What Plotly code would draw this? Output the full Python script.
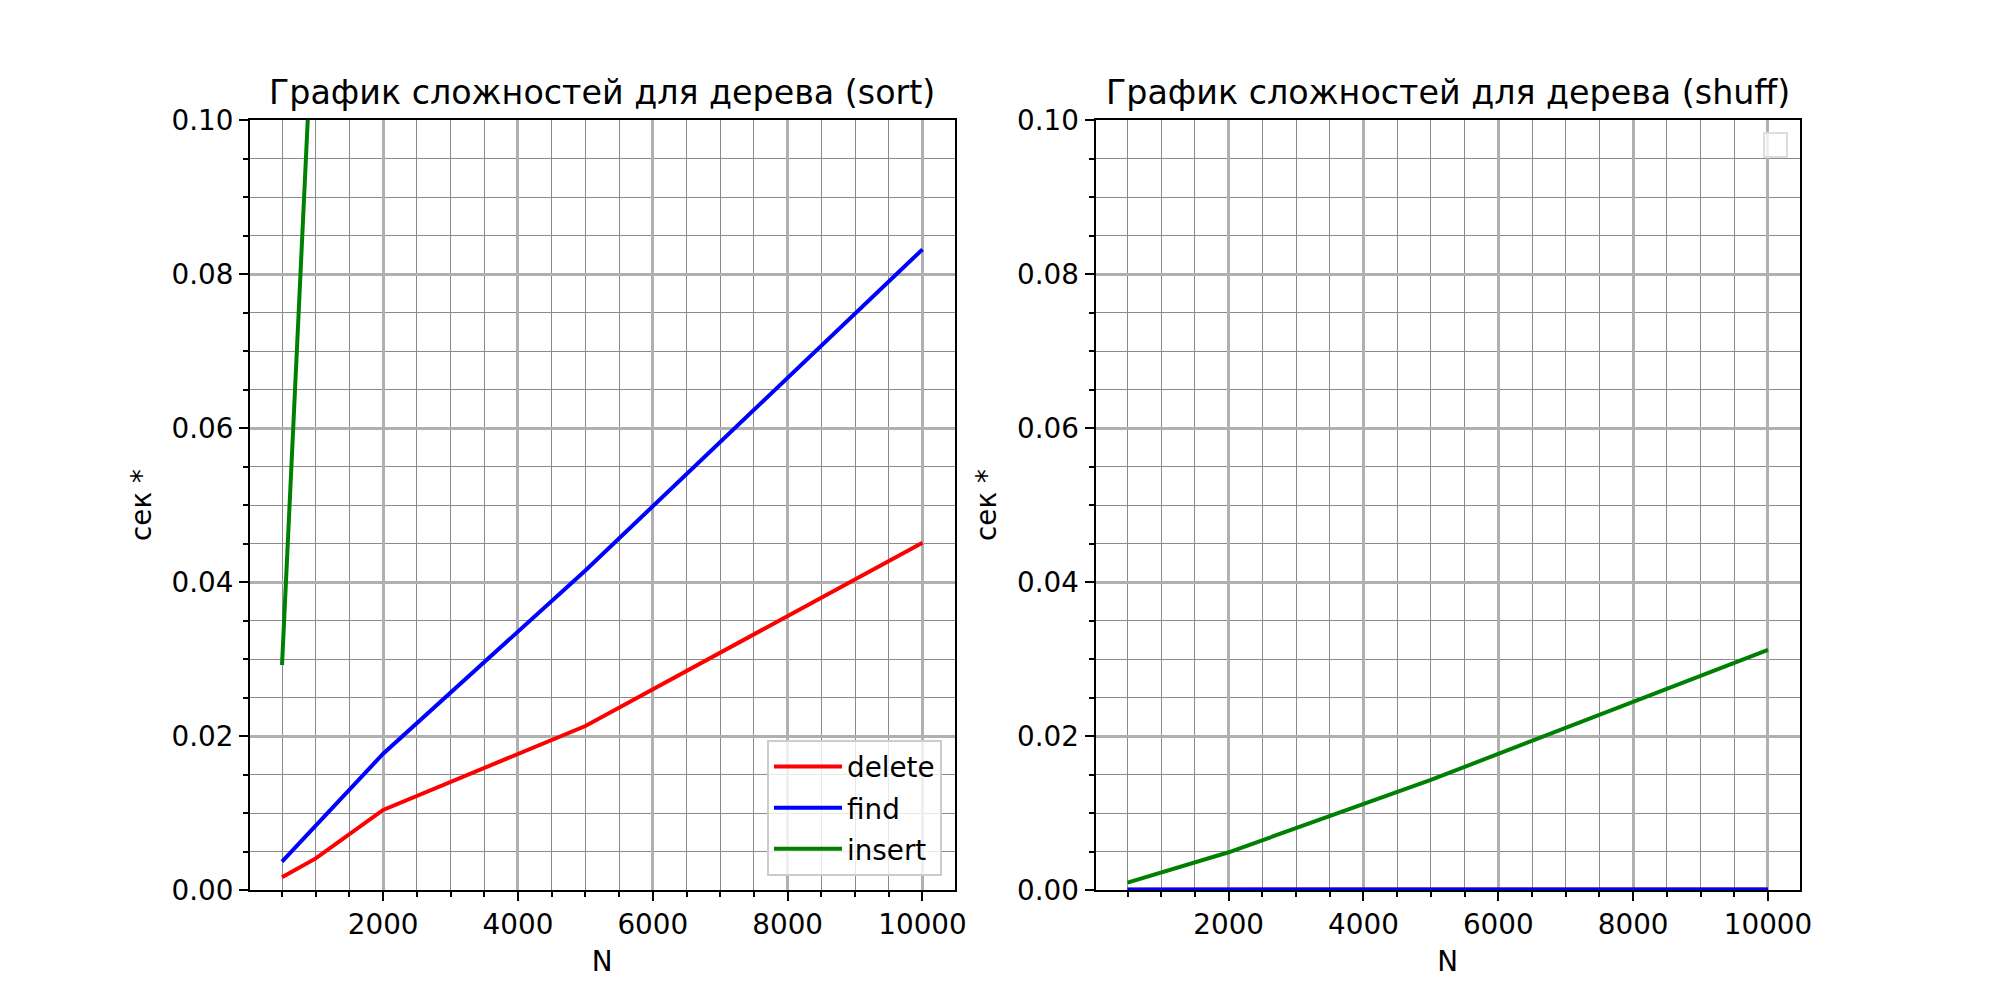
import plotly.graph_objects as go

# sizes of the tree (N)
n_values = [500, 1000, 2000, 5000, 10000]

# sorted input, seconds
sort_delete = [0.00165, 0.0041, 0.0104, 0.0213, 0.0451]
sort_find = [0.0037, 0.0084, 0.0177, 0.0415, 0.0832]
sort_insert = [0.0292, 0.122, 0.48, 3.0, 12.0]

# shuffled input, seconds
shuff_delete = [0.00004, 0.00005, 0.00005, 0.00006, 0.00007]
shuff_find = [0.00005, 0.00006, 0.00006, 0.00007, 0.00008]
shuff_insert = [0.00096, 0.0023, 0.0049, 0.0143, 0.0312]

series_names = ["delete", "find", "insert"]
series_colors = ["#ff0000", "#0000ff", "#008000"]

titles = ["График сложностей для дерева (sort)", "График сложностей для дерева (shuff)"]

FONT = "DejaVu Sans"
TICK_SIZE = 27.8
TITLE_SIZE = 33.3
LW = 4

fig = go.Figure()

for name, color, ys in zip(series_names, series_colors, [sort_delete, sort_find, sort_insert]):
    fig.add_trace(go.Scatter(x=n_values, y=ys, mode="lines", name=name, legendgroup=name,
                             line=dict(color=color, width=LW),
                             xaxis="x", yaxis="y"))

for name, color, ys in zip(series_names, series_colors, [shuff_delete, shuff_find, shuff_insert]):
    fig.add_trace(go.Scatter(x=n_values, y=ys, mode="lines", name=name,
                             line=dict(color=color, width=LW),
                             xaxis="x2", yaxis="y2", showlegend=False))


def xaxis_style(domain, anchor):
    return dict(
        domain=domain, anchor=anchor, range=[25, 10475],
        tick0=0, dtick=2000, tickformat="d", ticks="outside", ticklen=9, tickwidth=2, tickcolor="black",
        showline=True, linecolor="black", linewidth=2, mirror=True,
        showgrid=True, gridcolor="#b0b0b0", gridwidth=3, zeroline=False,
        minor=dict(dtick=500, tick0=0, ticks="outside", ticklen=5, tickwidth=1.5,
                   tickcolor="black", showgrid=True, gridcolor="#8a8a8a", gridwidth=1.3),
        tickfont=dict(size=TICK_SIZE, color="black"),
        title=dict(text="N", font=dict(size=TICK_SIZE, color="black"), standoff=11),
    )


def yaxis_style(domain, anchor):
    return dict(
        domain=domain, anchor=anchor, range=[0, 0.1],
        tick0=0, dtick=0.02, tickformat=".2f",
        ticks="outside", ticklen=9, tickwidth=2, tickcolor="black",
        showline=True, linecolor="black", linewidth=2, mirror=True,
        showgrid=True, gridcolor="#b0b0b0", gridwidth=3, zeroline=False,
        minor=dict(dtick=0.005, tick0=0, ticks="outside", ticklen=5, tickwidth=1.5,
                   tickcolor="black", showgrid=True, gridcolor="#8a8a8a", gridwidth=1.3),
        tickfont=dict(size=TICK_SIZE, color="black"),
        title=dict(text="сек *", font=dict(size=TICK_SIZE, color="black"), standoff=12),
    )


fig.update_layout(
    width=2000, height=1000,
    margin=dict(l=0, r=0, t=0, b=0, autoexpand=False),
    paper_bgcolor="white", plot_bgcolor="white",
    font=dict(family=FONT, size=TICK_SIZE, color="black"),
    xaxis=xaxis_style([0.125, 0.47725], "y"),
    yaxis=yaxis_style([0.11, 0.88], "x"),
    xaxis2=xaxis_style([0.54775, 0.9], "y2"),
    yaxis2=yaxis_style([0.11, 0.88], "x2"),
    legend=dict(x=0.471, y=0.124, xanchor="right", yanchor="bottom",
                bgcolor="rgba(255,255,255,0.8)", bordercolor="#cccccc", borderwidth=2,
                font=dict(size=TICK_SIZE, color="black"), itemwidth=68,
                traceorder="grouped", tracegroupgap=2),
)

for title, (x0, x1) in zip(titles, [(0.125, 0.47725), (0.54775, 0.9)]):
    fig.add_annotation(text=title, xref="paper", yref="paper", x=(x0 + x1) / 2, y=0.88,
                       xanchor="center", yanchor="bottom", yshift=6, showarrow=False,
                       font=dict(size=TITLE_SIZE, color="black"))

# empty legend frame on the right panel
fig.add_shape(type="rect", xref="paper", yref="paper", x0=0.882, x1=0.8935, y0=0.843, y1=0.867,
              line=dict(color="#dddddd", width=2), fillcolor="rgba(255,255,255,0.8)")

fig.write_html("out.html", config={"displayModeBar": False},
               post_script="document.body.style.margin = '0';")
